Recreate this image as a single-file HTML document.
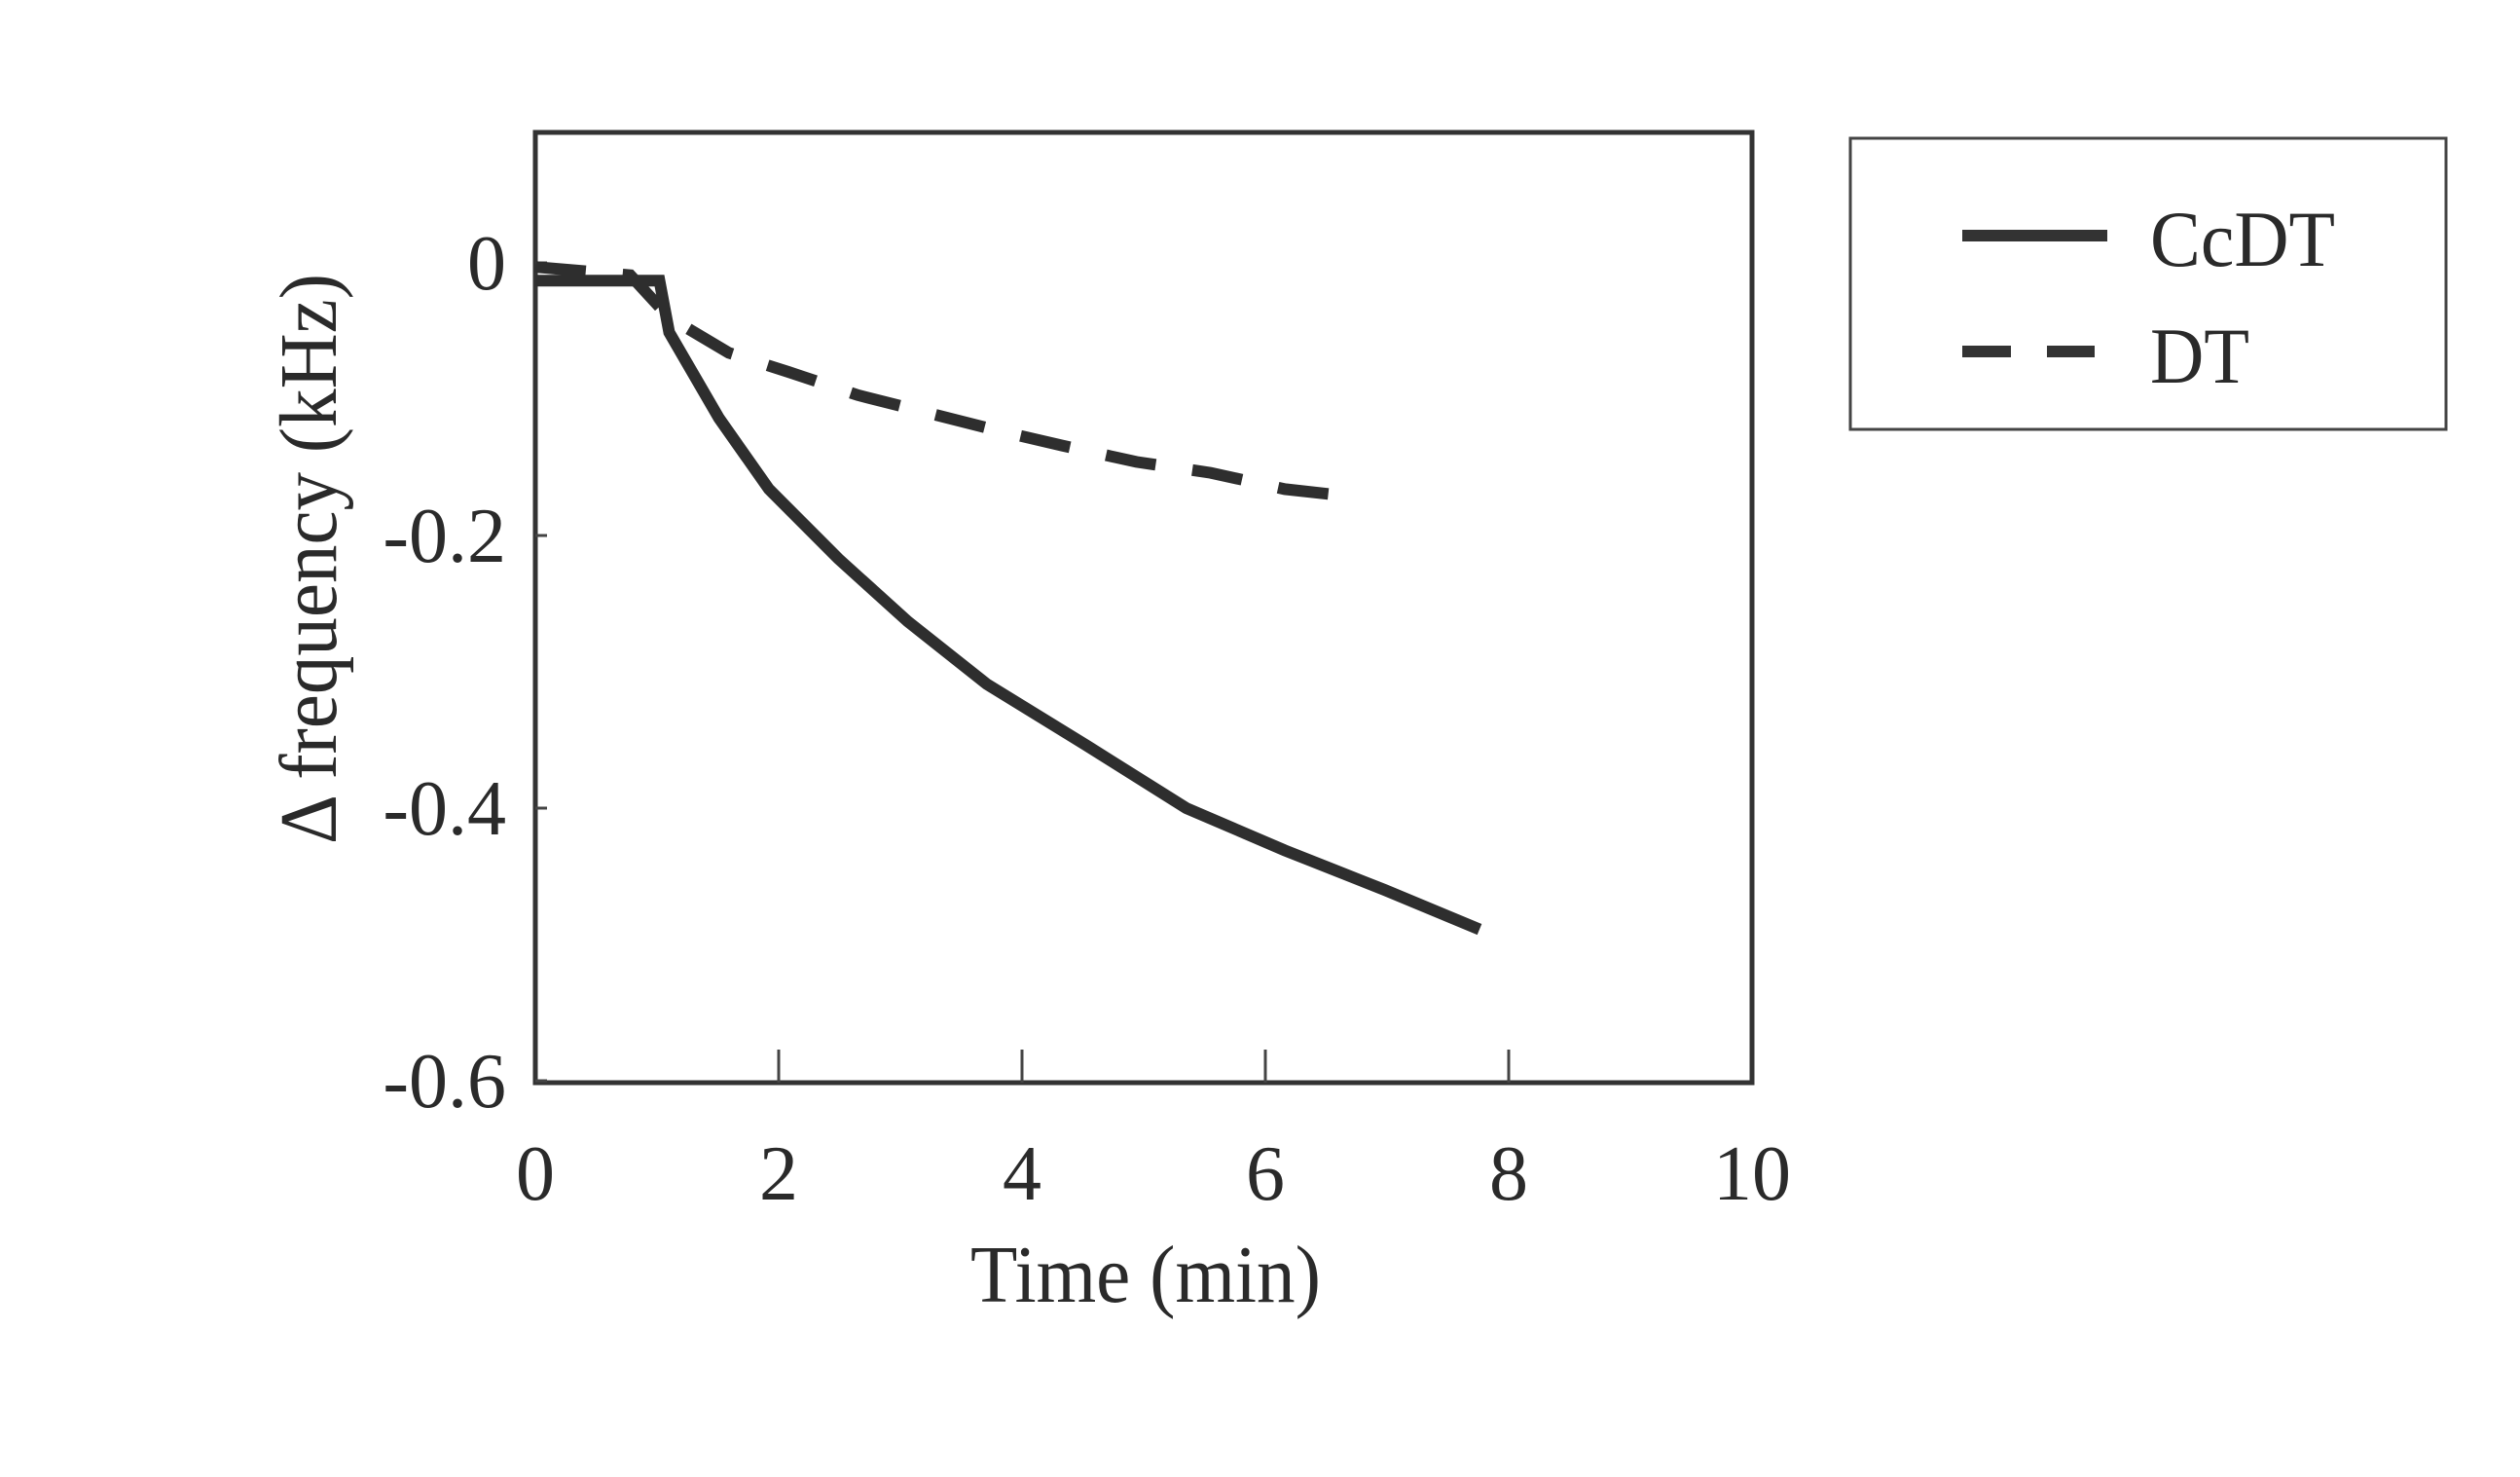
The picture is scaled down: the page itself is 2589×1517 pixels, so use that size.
<!DOCTYPE html>
<html><head><meta charset="utf-8"><style>
html,body{margin:0;padding:0;background:#fff}
svg{display:block}
text{font-family:"Liberation Serif",serif;fill:#2a2a2a}
</style></head><body>
<svg id="chart" width="2589" height="1517" viewBox="0 0 2589 1517" xmlns="http://www.w3.org/2000/svg">
<rect x="550" y="136" width="1250" height="976" fill="none" stroke="#333" stroke-width="5"/>
<g id="ticks"></g>
<g id="series"></g>
<text x="1177" y="1337" font-size="84" text-anchor="middle" textLength="360" lengthAdjust="spacingAndGlyphs">Time (min)</text>
<text x="0" y="0" font-size="84" text-anchor="middle" textLength="586" lengthAdjust="spacingAndGlyphs" transform="translate(345,574) rotate(-90)">Δ frequency (kHz)</text>
<g>
<rect x="1901" y="142" width="612" height="299" fill="none" stroke="#444" stroke-width="3"/>
<line x1="2016" y1="242" x2="2165" y2="242" stroke="#333" stroke-width="12"/>
<text x="2209" y="273" font-size="82" textLength="190" lengthAdjust="spacingAndGlyphs">CcDT</text>
<line x1="2016" y1="361" x2="2066" y2="361" stroke="#333" stroke-width="12"/>
<line x1="2103" y1="361" x2="2152" y2="361" stroke="#333" stroke-width="12"/>
<text x="2209" y="393" font-size="82" textLength="102" lengthAdjust="spacingAndGlyphs">DT</text>
</g>
</svg>
<script>
const xTicks = [0, 2, 4, 6, 8, 10];
const xTickLabels = ["0", "2", "4", "6", "8", "10"];
const yTicks = [0, -0.2, -0.4, -0.6];
const yTickLabels = ["0", "-0.2", "-0.4", "-0.6"];
const ccdtTime = [0, 1.02, 1.1, 1.51, 1.92, 2.49, 3.06, 3.71, 4.53, 5.35, 6.16, 6.98, 7.76];
const ccdtFreq = [-0.013, -0.013, -0.051, -0.114, -0.166, -0.217, -0.263, -0.309, -0.354, -0.4, -0.431, -0.46, -0.489];
const dtTime = [0, 0.78, 1.1, 1.59, 2.08, 2.65, 3.18, 3.8, 4.33, 4.94, 5.55, 6.16, 6.67];
const dtFreq = [-0.003, -0.009, -0.04, -0.066, -0.08, -0.097, -0.109, -0.123, -0.134, -0.146, -0.154, -0.166, -0.171];

const NS = "http://www.w3.org/2000/svg";
function xs(t){ return 550 + t * 125; }
function ys(v){ return 270 - v * 1400; }
const tg = document.getElementById('ticks');
xTicks.forEach((t, i) => {
  if (t > 0 && t < 10) {
    const l = document.createElementNS(NS, 'line');
    
    
    l.setAttribute('x1', xs(t)); l.setAttribute('x2', xs(t));
    l.setAttribute('y1', 1112); l.setAttribute('y2', 1078);
    l.setAttribute('stroke', '#444'); l.setAttribute('stroke-width', 3);
    tg.appendChild(l);
  }
  const tx = document.createElementNS(NS, 'text');
  
  
  tx.setAttribute('x', xs(t)); tx.setAttribute('y', 1232);
  tx.setAttribute('font-size', 80); tx.setAttribute('text-anchor', 'middle');
  tx.textContent = xTickLabels[i];
  tg.appendChild(tx);
});
yTicks.forEach((v, i) => {
  const l = document.createElementNS(NS, 'line');
  
  
  l.setAttribute('x1', 550); l.setAttribute('x2', 562);
  l.setAttribute('y1', ys(v)); l.setAttribute('y2', ys(v));
  l.setAttribute('stroke', '#444'); l.setAttribute('stroke-width', 3);
  tg.appendChild(l);
  const tx = document.createElementNS(NS, 'text');
  
  
  tx.setAttribute('x', 520); tx.setAttribute('y', ys(v) + 27);
  tx.setAttribute('font-size', 80); tx.setAttribute('text-anchor', 'end');
  tx.textContent = yTickLabels[i];
  tg.appendChild(tx);
});
const sg = document.getElementById('series');
function addLine(T, V, name, dash){
  const p = document.createElementNS(NS, 'polyline');
  
  
  p.setAttribute('points', T.map((t, i) => xs(t) + ',' + ys(V[i])).join(' '));
  p.setAttribute('fill', 'none'); p.setAttribute('stroke', '#2e2e2e');
  p.setAttribute('stroke-width', 12);
  if (dash) p.setAttribute('stroke-dasharray', dash);
  sg.appendChild(p);
}
addLine(dtTime, dtFreq, 'dt-line', '52 38');
addLine(ccdtTime, ccdtFreq, 'ccdt-line', null);
</script>
</body></html>
